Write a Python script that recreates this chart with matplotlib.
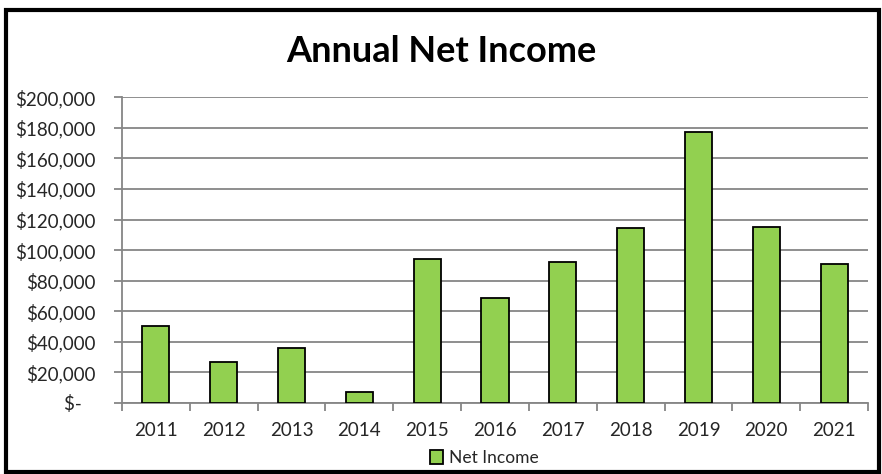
import matplotlib.pyplot as plt
from matplotlib.patches import Rectangle
from matplotlib.ticker import FixedLocator, FuncFormatter
import numpy as np

plt.rcParams['font.family'] = ['Lato', 'DejaVu Sans']

# values
years = ['2011', '2012', '2013', '2014', '2015', '2016', '2017', '2018', '2019', '2020', '2021']
net_income = [50400, 26500, 36300, 7500, 94300, 69000, 92100, 114200, 177100, 114900, 90800]
y_ticks = [0, 20000, 40000, 60000, 80000, 100000, 120000, 140000, 160000, 180000, 200000]

W, H = 882, 474
fig = plt.figure(figsize=(W / 100, H / 100), dpi=100)
ax = fig.add_axes([122 / W, 1 - 403 / H, (868 - 122) / W, (403 - 97.3) / H])

x = np.arange(len(years))
ax.bar(x, net_income, width=0.4, color='#92D050', edgecolor='black', linewidth=1.3,
       label='Net Income', zorder=3)

ax.set_ylim(0, 200000)
ax.set_xlim(-0.5, len(years) - 0.5)
ax.yaxis.set_major_locator(FixedLocator(y_ticks))


def money(v, pos):
    if v == 0:
        return '$-   '
    return f'${v:,.0f}'


ax.yaxis.set_major_formatter(FuncFormatter(money))
ax.grid(axis='y', color='#868686', linewidth=1.3, zorder=0)

# category boundary ticks, labels in the middle
ax.xaxis.set_major_locator(FixedLocator(np.arange(-0.5, len(years), 1.0)))
ax.xaxis.set_major_formatter(FuncFormatter(lambda v, p: ''))
ax.set_xticks(x, years, minor=True)
ax.tick_params(axis='x', which='major', length=6, width=1.3, color='#868686', direction='out')
ax.tick_params(axis='x', which='minor', length=0, pad=14, labelsize=13.5, labelcolor='#262626')
ax.tick_params(axis='y', length=6, width=1.3, color='#868686', pad=13, labelsize=13.5,
               labelcolor='#262626')

for s in ['top', 'right']:
    ax.spines[s].set_visible(False)
for s in ['left', 'bottom']:
    ax.spines[s].set_color('#868686')
    ax.spines[s].set_linewidth(1.3)

fig.text(441 / W, 1 - 52 / H, 'Annual Net Income', ha='center', va='center',
         fontsize=26, fontweight='bold', color='black')

fig.legend(loc='center', bbox_to_anchor=(484 / W, 1 - 458 / H), frameon=False,
           fontsize=12.5, handlelength=0.8, handleheight=0.8, handletextpad=0.3,
           labelcolor='#262626')

fig.patches.append(Rectangle((6 / W, 1 - 472 / H), (879 - 6) / W, (472 - 10) / H,
                             transform=fig.transFigure, fill=False,
                             edgecolor='black', linewidth=3, zorder=10))

fig.savefig('out.png', dpi=100)
